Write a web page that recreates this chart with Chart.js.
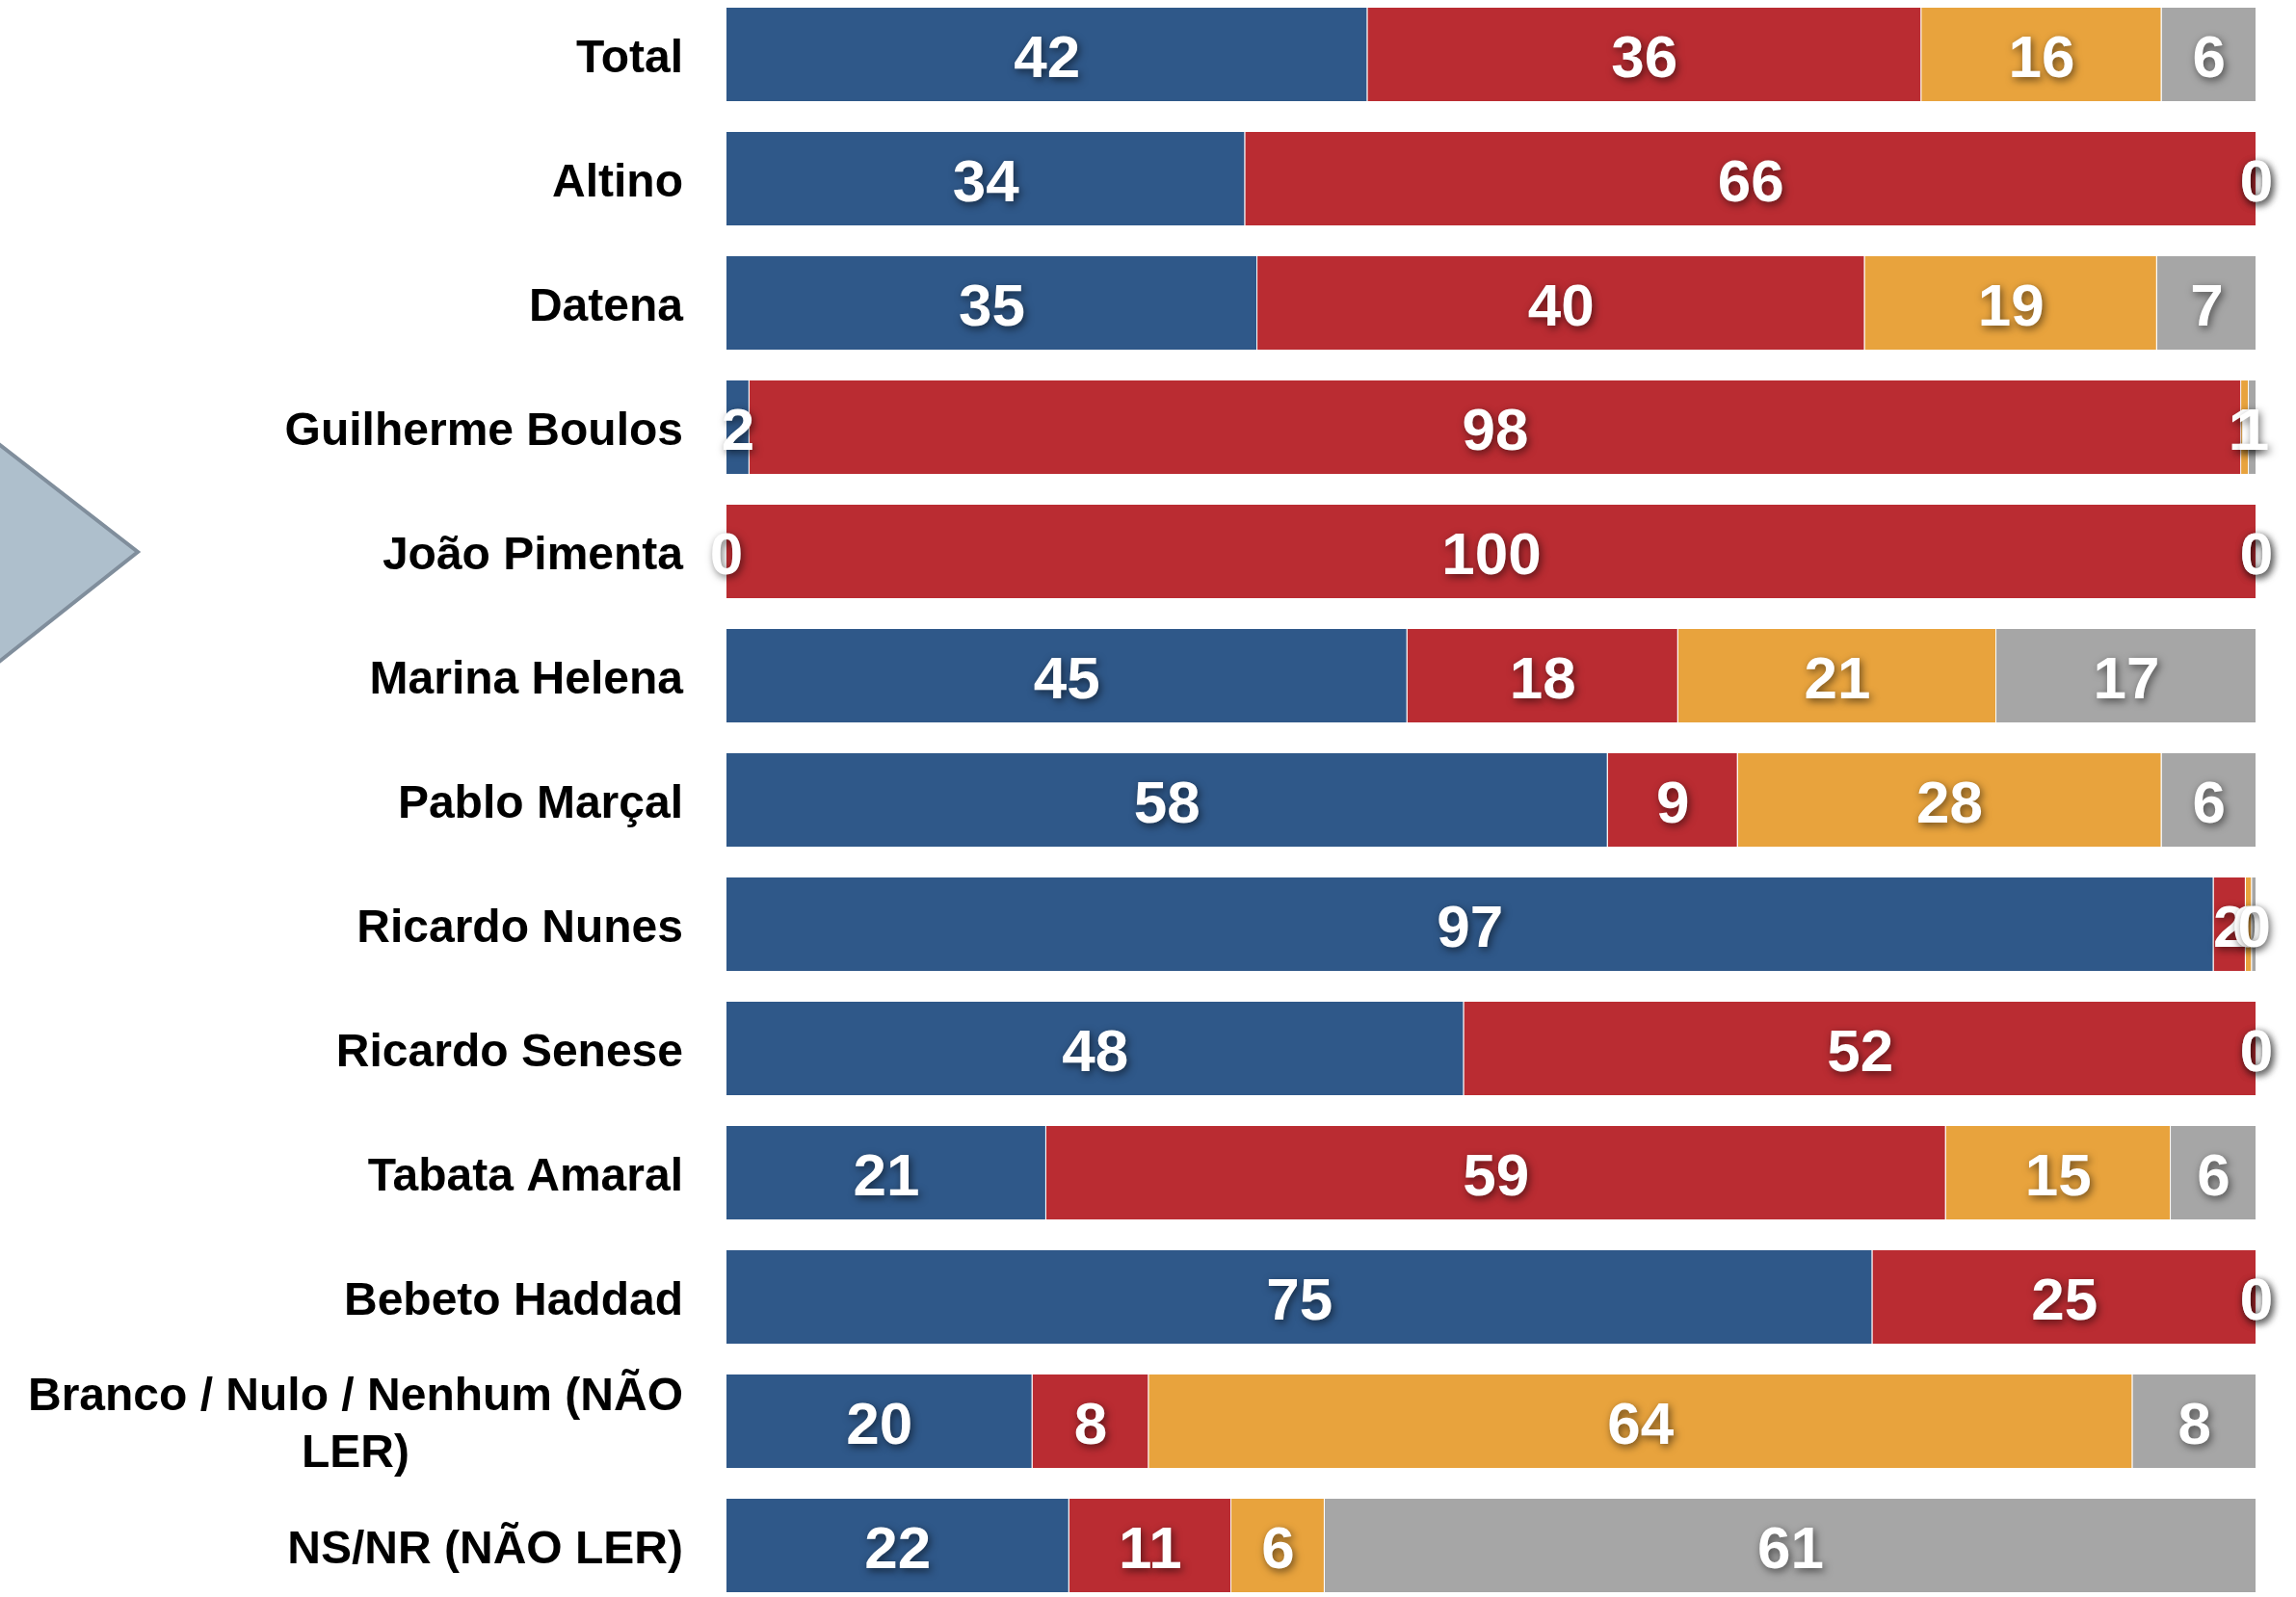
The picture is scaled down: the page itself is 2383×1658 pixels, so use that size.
<!DOCTYPE html>
<html>
<head>
<meta charset="utf-8">
<script src="https://cdn.jsdelivr.net/npm/chart.js@4.4.1/dist/chart.umd.min.js"></script>
<style>
  html, body { margin: 0; padding: 0; background: #fff; overflow: hidden; }
  body { width: 2383px; height: 1658px; position: relative; }
  #wrap { position: absolute; left: 0; top: -8px; width: 2383px; height: 1677px; }
</style>
</head>
<body>
<div id="wrap"><canvas id="chart" width="2383" height="1677"></canvas></div>
<script>
// --- data (percent of each group) ---
const categories = ['Total', 'Altino', 'Datena', 'Guilherme Boulos', 'João Pimenta', 'Marina Helena',
  'Pablo Marçal', 'Ricardo Nunes', 'Ricardo Senese', 'Tabata Amaral', 'Bebeto Haddad',
  ['Branco / Nulo / Nenhum (NÃO', 'LER)'], 'NS/NR (NÃO LER)'];
const blueVals   = [41.9, 33.9, 34.7, 1.5, 0, 44.5, 57.6, 97.2, 48.2, 20.9, 74.9, 20.0, 22.4];
const redVals    = [36.2, 66.1, 39.7, 97.5, 100, 17.7, 8.5, 2.1, 51.8, 58.8, 25.1, 7.6, 10.6];
const orangeVals = [15.7, 0, 19.1, 0.5, 0, 20.8, 27.7, 0.4, 0, 14.7, 0, 64.3, 6.1];
const grayVals   = [6.2, 0, 6.5, 0.5, 0, 17.0, 6.2, 0.3, 0, 5.6, 0, 8.1, 60.9];

const colors = ['#2F5889', '#BA2C32', '#E8A33D', '#A6A6A6'];
const series = [blueVals, redVals, orangeVals, grayVals];

// big arrow shape on the left edge
const arrowPlugin = {
  id: 'arrow',
  beforeDatasetsDraw(chart) {
    const ctx = chart.ctx;
    const off = 8; // canvas is shifted up by 8px
    ctx.save();
    ctx.beginPath();
    ctx.moveTo(-40, 431 + off);
    ctx.lineTo(143, 573 + off);
    ctx.lineTo(-40, 718 + off);
    ctx.closePath();
    ctx.fillStyle = '#AEBFCC';
    ctx.fill();
    ctx.lineWidth = 4;
    ctx.strokeStyle = '#808E9C';
    ctx.stroke();
    ctx.restore();
  }
};

// category names right of the arrow, left of the bars
const catLabelPlugin = {
  id: 'catLabels',
  afterDraw(chart) {
    const ctx = chart.ctx;
    const yScale = chart.scales.y;
    const right = 709;
    const lh = 59;
    ctx.save();
    ctx.font = 'bold 48px "Liberation Sans", Arial, sans-serif';
    ctx.fillStyle = '#000';
    ctx.textBaseline = 'middle';
    categories.forEach((c, i) => {
      const y = yScale.getPixelForValue(i) + 5;
      if (Array.isArray(c)) {
        const w = Math.max(...c.map(s => ctx.measureText(s).width));
        ctx.textAlign = 'center';
        const y0 = y - (c.length - 1) * lh / 2;
        c.forEach((s, k) => ctx.fillText(s, right - w / 2, y0 + k * lh));
      } else {
        ctx.textAlign = 'right';
        ctx.fillText(c, right, y);
      }
    });
    ctx.restore();
  }
};

// white values with soft shadow in the middle of each segment
const valueLabelPlugin = {
  id: 'valueLabels',
  afterDatasetsDraw(chart) {
    const ctx = chart.ctx;
    ctx.save();
    ctx.font = 'bold 62px "Liberation Sans", Arial, sans-serif';
    ctx.textAlign = 'center';
    ctx.textBaseline = 'middle';
    ctx.fillStyle = '#fff';
    ctx.shadowColor = 'rgba(0,0,0,0.55)';
    ctx.shadowBlur = 8;
    ctx.shadowOffsetX = 2;
    ctx.shadowOffsetY = 3;
    chart.data.datasets.forEach((ds, di) => {
      const meta = chart.getDatasetMeta(di);
      meta.data.forEach((el, i) => {
        const x = (el.x + el.base) / 2;
        ctx.fillText(String(Math.round(ds.data[i])), x, el.y + 6);
      });
    });
    ctx.restore();
  }
};

new Chart(document.getElementById('chart'), {
  type: 'bar',
  data: {
    labels: categories,
    datasets: series.map((vals, k) => ({
      data: vals,
      backgroundColor: colors[k],
      borderColor: 'rgba(255,255,255,0.25)',
      borderWidth: 1,
      barPercentage: 0.767,
      categoryPercentage: 1
    }))
  },
  options: {
    indexAxis: 'y',
    responsive: false,
    devicePixelRatio: 1,
    animation: false,
    layout: { padding: { left: 754, right: 41, top: 0, bottom: 0 } },
    plugins: { legend: { display: false }, tooltip: { enabled: false } },
    scales: {
      x: { stacked: true, min: 0, max: 100, display: false },
      y: { stacked: true, display: false }
    }
  },
  plugins: [arrowPlugin, catLabelPlugin, valueLabelPlugin]
});
</script>
</body>
</html>
